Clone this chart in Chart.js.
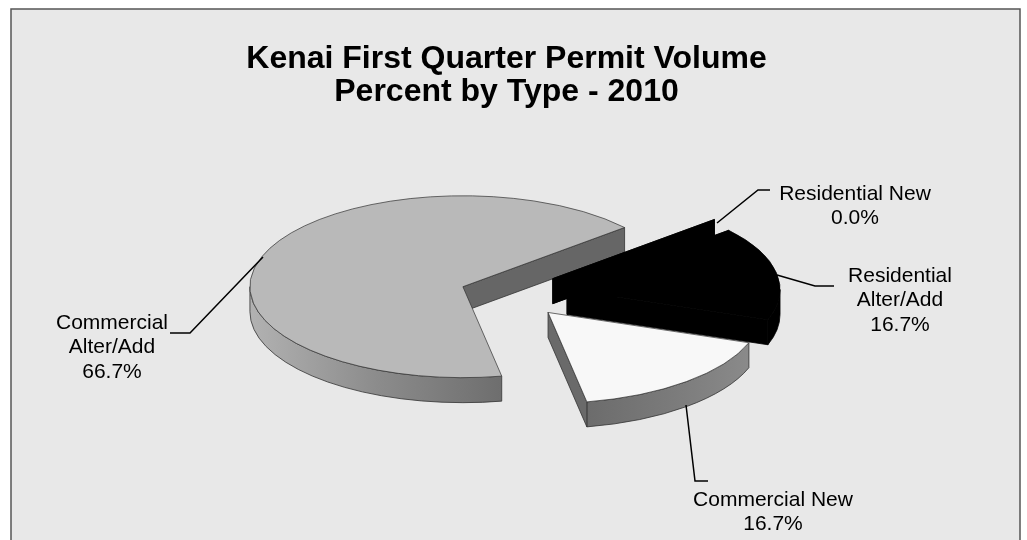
<!DOCTYPE html>
<html>
<head>
<meta charset="utf-8">
<title>Kenai First Quarter Permit Volume</title>
<script src="https://cdn.jsdelivr.net/npm/chart.js@4"></script>
<style>
    html, body { margin: 0; padding: 0; background: #fff; overflow: hidden; }
    #box { width: 1027px; height: 540px; }
</style>
</head>
<body>
<div id="box"><canvas id="chart"></canvas></div>
<script>
const titleLines = ['Kenai First Quarter Permit Volume', 'Percent by Type - 2010'];
const categories = [['Commercial', 'Alter/Add'], ['Residential New'], ['Residential', 'Alter/Add'], ['Commercial New']];
const percents = [66.7, 0, 16.7, 16.7];

const sliceColors = ['#b9b9b9', '#000000', '#000000', '#f8f8f8'];
const borderColors = ['#333333', '#000000', '#000000', '#333333'];
const rimColors = [['#6e6e6e', '#8c8c8c', '#b2b2b2'], ['#000', '#000'], ['#000', '#000'], ['#8a8a8a', '#7a7a7a', '#6c6c6c']];
const explode = [51, 55, 57, 57]; // how far each slice is pulled out
const tilt = 0.427; // squash of the pie
const depth = 25;
const pieShift = 4.5; // title sits a little left of the pie centre
const fontName = '"Liberation Sans", Arial, sans-serif';

// leader line points and label centre for each slice
const leaders = [
    { line: [[263, 257], [190, 333], [170, 333]], x: 112, y: 323 },
    { line: [[717, 223], [758, 190], [770, 190]], x: 855, y: 194 },
    { line: [[777, 275], [815, 286], [834, 286]], x: 900, y: 276 },
    { line: [[686, 405], [695, 481], [708, 481]], x: 773, y: 500 }
];

const panelPlugin = {
    id: 'panel',
    beforeDraw(chart) {
        const ctx = chart.ctx;
        ctx.save();
        ctx.fillStyle = '#e8e8e8';
        ctx.fillRect(11, 9, 1009, 535);
        ctx.strokeStyle = '#555';
        ctx.lineWidth = 1.5;
        ctx.strokeRect(11, 9, 1009, 540);
        ctx.restore();
    }
};

function sideFace(ctx, cx, cy, r, angle, color) {
    const ex = cx + Math.cos(angle) * r;
    const ey = cy + Math.sin(angle) * r * tilt;
    ctx.beginPath();
    ctx.moveTo(cx, cy);
    ctx.lineTo(ex, ey);
    ctx.lineTo(ex, ey + depth);
    ctx.lineTo(cx, cy + depth);
    ctx.closePath();
    ctx.fillStyle = color;
    ctx.fill();
    ctx.strokeStyle = color === '#000000' ? '#000' : '#333';
    ctx.lineWidth = 0.8;
    ctx.stroke();
}

function rimFace(ctx, cx, cy, r, a0, a1, colors) {
    // only the front half of the rim shows
    const from = Math.max(a0, 0);
    const to = Math.min(a1, Math.PI);
    if (to <= from) return;
    const x0 = cx + Math.cos(from) * r;
    const x1 = cx + Math.cos(to) * r;
    const grad = ctx.createLinearGradient(x0, 0, x1, 0);
    colors.forEach((c, i) => grad.addColorStop(i / (colors.length - 1), c));
    ctx.beginPath();
    ctx.ellipse(cx, cy, r, r * tilt, 0, from, to);
    ctx.ellipse(cx, cy + depth, r, r * tilt, 0, to, from, true);
    ctx.closePath();
    ctx.fillStyle = grad;
    ctx.fill();
    ctx.strokeStyle = colors[0] === '#000' ? '#000' : '#333';
    ctx.lineWidth = 0.8;
    ctx.stroke();
}

// Squashes the library's arcs into an ellipse and adds the slab under them
const pie3dPlugin = {
    id: 'pie3d',
    beforeDatasetsDraw(chart) {
        const ctx = chart.ctx;
        const arcs = chart.getDatasetMeta(0).data;
        arcs.forEach((arc, i) => {
            const p = arc.getProps(['x', 'y', 'startAngle', 'endAngle', 'outerRadius'], true);
            const mid = (p.startAngle + p.endAngle) / 2;
            const dx = Math.cos(mid) * explode[i] + pieShift;
            const dy = Math.sin(mid) * explode[i];
            const cx = p.x + dx;
            const cy = p.y + dy * tilt;
            // angles run past 360 after the big slice, bring them back for the rim
            const wrap = i === 0 ? 0 : Math.PI * 2;
            const a0 = p.startAngle - wrap;
            const a1 = p.endAngle - wrap;

            ctx.save();
            rimFace(ctx, cx, cy, p.outerRadius, a0, a1, rimColors[i]);
            if (i === 0) {
                sideFace(ctx, cx, cy, p.outerRadius, a1, '#666666');
            } else if (i === 3) {
                sideFace(ctx, cx, cy, p.outerRadius, a1, '#6a6a6a');
            } else {
                sideFace(ctx, cx, cy, p.outerRadius, a0, '#000000');
                sideFace(ctx, cx, cy, p.outerRadius, a1, '#000000');
            }
            ctx.translate(p.x, p.y);
            ctx.scale(1, tilt);
            ctx.translate(-p.x + dx, -p.y + dy);
            arc.draw(ctx, chart.chartArea);
            ctx.restore();
        });
        return false; // slices are already drawn
    }
};

const labelPlugin = {
    id: 'sliceLabels',
    afterDraw(chart) {
        const ctx = chart.ctx;
        ctx.save();
        ctx.strokeStyle = '#000';
        ctx.lineWidth = 1.5;
        ctx.fillStyle = '#000';
        ctx.font = '21px ' + fontName;
        ctx.textAlign = 'center';
        ctx.textBaseline = 'middle';
        leaders.forEach((l, i) => {
            ctx.beginPath();
            l.line.forEach((pt, j) => j ? ctx.lineTo(pt[0], pt[1]) : ctx.moveTo(pt[0], pt[1]));
            ctx.stroke();
            const lines = categories[i].concat(percents[i].toFixed(1) + '%');
            lines.forEach((t, j) => ctx.fillText(t, l.x, l.y + j * 24.5));
        });
        ctx.restore();
    }
};

const chart = new Chart(document.getElementById('chart'), {
    type: 'pie',
    data: {
        labels: categories.map(c => c.join(' ')),
        datasets: [
            {
                data: percents,
                backgroundColor: sliceColors,
                borderColor: borderColors,
                borderWidth: 1,
                radius: 213
            }
        ]
    },
    options: {
        responsive: true,
        maintainAspectRatio: false,
        animation: false,
        events: [],
        rotation: 169.5,
        layout: { padding: { left: 0, right: 14, top: 0, bottom: 61 } },
        plugins: {
            legend: { display: false },
            tooltip: { enabled: false },
            title: {
                display: true,
                text: titleLines,
                color: '#000',
                font: { family: fontName, size: 32, weight: 'bold', lineHeight: 1.03 },
                padding: { top: 43, bottom: 0 }
            }
        }
    },
    plugins: [panelPlugin, pie3dPlugin, labelPlugin]
});
</script>
</body>
</html>
